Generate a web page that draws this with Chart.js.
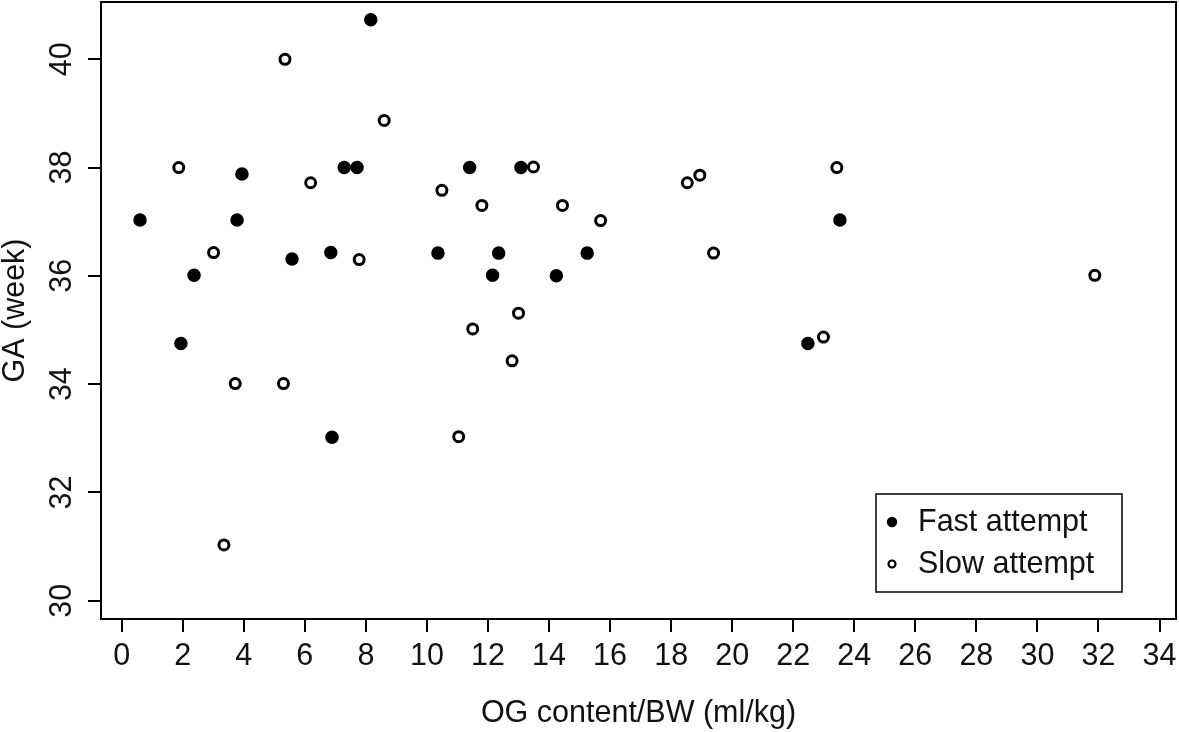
<!DOCTYPE html>
<html>
<head>
<meta charset="utf-8">
<script src="https://cdn.jsdelivr.net/npm/chart.js@4"></script>
<style>
  body { margin: 0; background: #fff; }
  #wrap { width: 1179px; height: 732px; position: relative; }
</style>
</head>
<body>
<div id="wrap"><canvas id="scatter"></canvas></div>
<script>
var fastX = [0.60, 1.94, 2.37, 3.78, 3.94, 5.58, 6.85, 6.89, 7.29, 7.71, 8.16, 10.36, 11.40, 12.15, 12.35, 13.08, 14.24, 15.25, 22.48, 23.53];
var fastY = [37.03, 34.75, 36.01, 37.03, 37.88, 36.31, 36.43, 33.02, 38.0, 38.0, 40.73, 36.42, 38.0, 36.01, 36.42, 38.0, 36.0, 36.42, 34.75, 37.03];

var slowX = [1.87, 3.01, 3.35, 3.72, 5.30, 5.35, 6.19, 7.78, 8.60, 10.49, 11.04, 11.50, 11.80, 12.79, 13.00, 13.49, 14.44, 15.69, 18.53, 18.94, 19.39, 22.99, 23.43, 31.88];
var slowY = [38.0, 36.43, 31.03, 34.01, 34.01, 40.0, 37.72, 36.3, 38.87, 37.58, 33.03, 35.02, 37.30, 34.43, 35.31, 38.01, 37.30, 37.02, 37.72, 37.86, 36.42, 34.87, 38.0, 36.01];

var xTicks = [0, 2, 4, 6, 8, 10, 12, 14, 16, 18, 20, 22, 24, 26, 28, 30, 32, 34];
var yTicks = [30, 32, 34, 36, 38, 40];

var seriesNames = ['Fast attempt', 'Slow attempt'];
var xTitle = 'OG content/BW (ml/kg)';
var yTitle = 'GA (week)';

var FONT = "'Liberation Sans', Arial, sans-serif";
var FSIZE = 30.5;

function toPoints(xs, ys) {
    return xs.map(function(x, i) { return { x: x, y: ys[i] }; });
}

// box round the plot area
var boxPlugin = {
    id: 'box',
    afterDatasetsDraw: function(chart) {
        var a = chart.chartArea;
        var ctx = chart.ctx;
        ctx.save();
        ctx.strokeStyle = '#000';
        ctx.lineWidth = 2;
        ctx.strokeRect(a.left, a.top, a.right - a.left, a.bottom - a.top);
        ctx.restore();
    }
};

// R style legend box, bottom right inside the plot
var legendBox = {
    id: 'legendBox',
    afterDraw: function(chart) {
        var a = chart.chartArea;
        var ctx = chart.ctx;
        var w = 246, h = 98;
        var left = a.right - 54 - w;
        var top = a.bottom - 27 - h;
        ctx.save();
        ctx.strokeStyle = '#000';
        ctx.lineWidth = 1.5;
        ctx.strokeRect(left, top, w, h);
        ctx.font = FSIZE + 'px ' + FONT;
        ctx.textBaseline = 'middle';
        chart.data.datasets.forEach(function(ds, i) {
            var cy = top + 28 + i * 42;
            ctx.beginPath();
            if (i === 0) {
                ctx.arc(left + 16, cy, 5.2, 0, Math.PI * 2);
                ctx.fillStyle = '#000';
                ctx.fill();
            } else {
                ctx.arc(left + 16, cy, 3.5, 0, Math.PI * 2);
                ctx.lineWidth = 2.2;
                ctx.stroke();
            }
            ctx.fillStyle = '#111';
            ctx.fillText(ds.label, left + 42, cy + 1);
        });
        ctx.restore();
    }
};

var ctx = document.getElementById('scatter').getContext('2d');
var myChart = new Chart(ctx, {
    type: 'scatter',
    data: {
        datasets: [{
            label: seriesNames[0],
            data: toPoints(fastX, fastY),
            backgroundColor: '#000',
            borderColor: '#000',
            borderWidth: 1.5,
            pointRadius: 6,
            pointHoverRadius: 6
        }, {
            label: seriesNames[1],
            data: toPoints(slowX, slowY),
            backgroundColor: '#fff',
            borderColor: '#000',
            borderWidth: 3,
            pointRadius: 5,
            pointHoverRadius: 5
        }]
    },
    options: {
        responsive: true,
        maintainAspectRatio: false,
        animation: false,
        layout: {
            autoPadding: false,
            padding: { top: 2, right: 3, left: 0, bottom: 0 }
        },
        plugins: {
            legend: { display: false },
            tooltip: { enabled: false }
        },
        scales: {
            x: {
                type: 'linear',
                min: -0.678,
                max: 34.54,
                afterBuildTicks: function(scale) {
                    scale.ticks = xTicks.map(function(v) { return { value: v }; });
                },
                afterFit: function(scale) {
                    scale.height = 113;
                    scale.paddingLeft = 0;
                    scale.paddingRight = 0;
                },
                border: { display: false },
                grid: {
                    drawOnChartArea: false,
                    drawTicks: true,
                    tickLength: 13,
                    color: '#000',
                    lineWidth: 2
                },
                ticks: {
                    color: '#111',
                    padding: 6,
                    maxRotation: 0,
                    autoSkip: false,
                    font: { family: FONT, size: FSIZE }
                },
                title: {
                    display: true,
                    text: xTitle,
                    color: '#111',
                    padding: { top: 0, bottom: 0 },
                    font: { family: FONT, size: FSIZE }
                }
            },
            y: {
                type: 'linear',
                min: 29.662,
                max: 41.058,
                afterBuildTicks: function(scale) {
                    scale.ticks = yTicks.map(function(v) { return { value: v }; });
                },
                afterFit: function(scale) {
                    scale.width = 101;
                    scale.paddingTop = 0;
                    scale.paddingBottom = 0;
                },
                border: { display: false },
                grid: {
                    drawOnChartArea: false,
                    drawTicks: true,
                    tickLength: 13,
                    color: '#000',
                    lineWidth: 2
                },
                ticks: {
                    color: '#111',
                    padding: 8,
                    minRotation: 90,
                    maxRotation: 90,
                    crossAlign: 'center',
                    autoSkip: false,
                    font: { family: FONT, size: FSIZE }
                },
                title: {
                    display: true,
                    text: yTitle,
                    color: '#111',
                    padding: { top: 0, bottom: 0 },
                    font: { family: FONT, size: FSIZE, lineHeight: 1 }
                }
            }
        }
    },
    plugins: [boxPlugin, legendBox]
});
</script>
</body>
</html>
